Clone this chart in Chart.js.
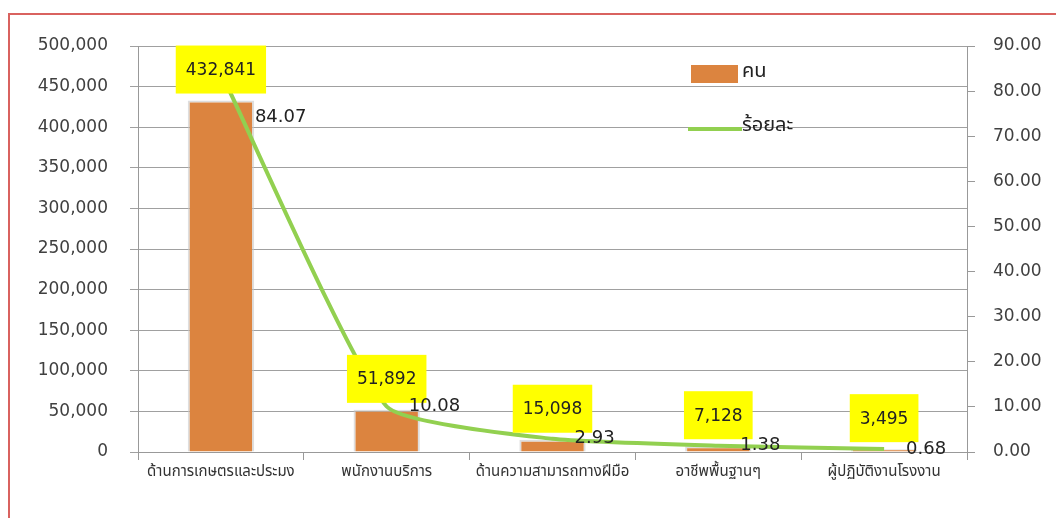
<!DOCTYPE html>
<html>
<head>
<meta charset="utf-8">
<script src="https://cdn.jsdelivr.net/npm/chart.js@4.4.1/dist/chart.umd.min.js"></script>
<style>
    html, body { margin: 0; padding: 0; background: #fff; }
    #wrap { position: relative; width: 1056px; height: 518px; overflow: hidden; }
    #frame { position: absolute; left: 8px; top: 13px; width: 1100px; height: 600px; border: 2px solid #d9625f; box-sizing: border-box; }
    canvas { position: absolute; left: 0; top: 0; }
</style>
</head>
<body>
<div id="wrap">
    <div id="frame"></div>
    <canvas id="chart" width="1056" height="518"></canvas>
</div>
<script>
const categories = ['ด้านการเกษตรและประมง', 'พนักงานบริการ', 'ด้านความสามารถทางฝีมือ', 'อาชีพพื้นฐานๆ', 'ผู้ปฏิบัติงานโรงงาน'];
const people = [432841, 51892, 15098, 7128, 3495];
const percent = [84.07, 10.08, 2.93, 1.38, 0.68];
const peopleLabel = 'คน';
const percentLabel = 'ร้อยละ';

const FONT = '"DejaVu Sans", sans-serif';
const THAI_FONT = '"Noto Sans Thai", "Tahoma", "DejaVu Serif", serif';
const ORANGE = '#dc843f';
const GREEN = '#92d050';

// yellow boxes above bars + percent labels beside the line
const labelPlugin = {
    id: 'valueLabels',
    afterDatasetsDraw(chart) {
        const ctx = chart.ctx;
        const bars = chart.getDatasetMeta(0).data;
        const pts = chart.getDatasetMeta(1).data;
        ctx.save();
        ctx.font = '17px ' + FONT;
        ctx.textBaseline = 'middle';
        bars.forEach((bar, i) => {
            const txt = people[i].toLocaleString('en-US');
            const w = ctx.measureText(txt).width + 20;
            const h = 48;
            const bottom = bar.y - 7;
            ctx.fillStyle = '#ffff00';
            ctx.fillRect(bar.x - w / 2, bottom - h, w, h);
            ctx.fillStyle = '#222';
            ctx.textAlign = 'center';
            ctx.fillText(txt, bar.x, bottom - h / 2 + 1);
        });
        ctx.font = '18px ' + FONT;
        ctx.textAlign = 'left';
        pts.forEach((p, i) => {
            const dy = i === 0 ? 45 : 0; // first label was moved down in the original
            const dx = i === 0 ? 34 : 22;
            ctx.fillStyle = '#222';
            ctx.fillText(percent[i].toFixed(2), p.x + dx, p.y + dy);
        });
        ctx.restore();
    },
    afterDraw(chart) {
        // legend drawn inside plot area
        const ctx = chart.ctx;
        ctx.save();
        ctx.fillStyle = ORANGE;
        ctx.fillRect(691, 65, 47, 18);
        ctx.strokeStyle = GREEN;
        ctx.lineWidth = 4;
        ctx.beginPath();
        ctx.moveTo(688, 129);
        ctx.lineTo(742, 129);
        ctx.stroke();
        ctx.fillStyle = '#222';
        ctx.font = '20px ' + THAI_FONT;
        ctx.textBaseline = 'middle';
        ctx.fillText(peopleLabel, 742, 73);
        ctx.fillText(percentLabel, 742, 127);
        ctx.restore();
    }
};

new Chart(document.getElementById('chart'), {
    data: {
        labels: categories,
        datasets: [{
            type: 'bar',
            label: peopleLabel,
            data: people,
            yAxisID: 'y',
            backgroundColor: ORANGE,
            borderColor: 'rgba(200,200,200,0.6)',
            borderWidth: 2,
            borderSkipped: 'bottom',
            barPercentage: 0.4,
            categoryPercentage: 1,
            order: 2
        }, {
            type: 'line',
            label: percentLabel,
            data: percent,
            yAxisID: 'y1',
            borderColor: GREEN,
            borderWidth: 4,
            pointRadius: 0,
            tension: 0.15,
            order: 1
        }]
    },
    options: {
        responsive: false,
        animation: false,
        layout: { padding: { top: 46, left: 0, right: 0, bottom: 0 } },
        plugins: { legend: { display: false }, tooltip: { enabled: false } },
        scales: {
            x: {
                offset: true,
                grid: { offset: true, drawOnChartArea: false, tickLength: 8, color: '#999' },
                border: { color: '#999' },
                ticks: { padding: 4, color: '#333', font: { size: 15, family: THAI_FONT }, maxRotation: 0 },
                afterFit: s => { s.height = 66; }
            },
            y: {
                position: 'left',
                min: 0, max: 500000,
                grid: { color: '#a0a0a0', tickLength: 8 },
                border: { color: '#999' },
                ticks: {
                    stepSize: 50000, padding: 22, color: '#404040',
                    font: { size: 17, family: FONT },
                    callback: v => v.toLocaleString('en-US')
                },
                afterFit: s => { s.width = 138; }
            },
            y1: {
                position: 'right',
                min: 0, max: 90,
                grid: { drawOnChartArea: false, tickLength: 8, color: '#999' },
                border: { color: '#999' },
                ticks: {
                    stepSize: 10, padding: 18, color: '#404040',
                    font: { size: 17, family: FONT },
                    callback: v => v.toFixed(2)
                },
                afterFit: s => { s.width = 89; }
            }
        }
    },
    plugins: [labelPlugin]
});
</script>
</body>
</html>
